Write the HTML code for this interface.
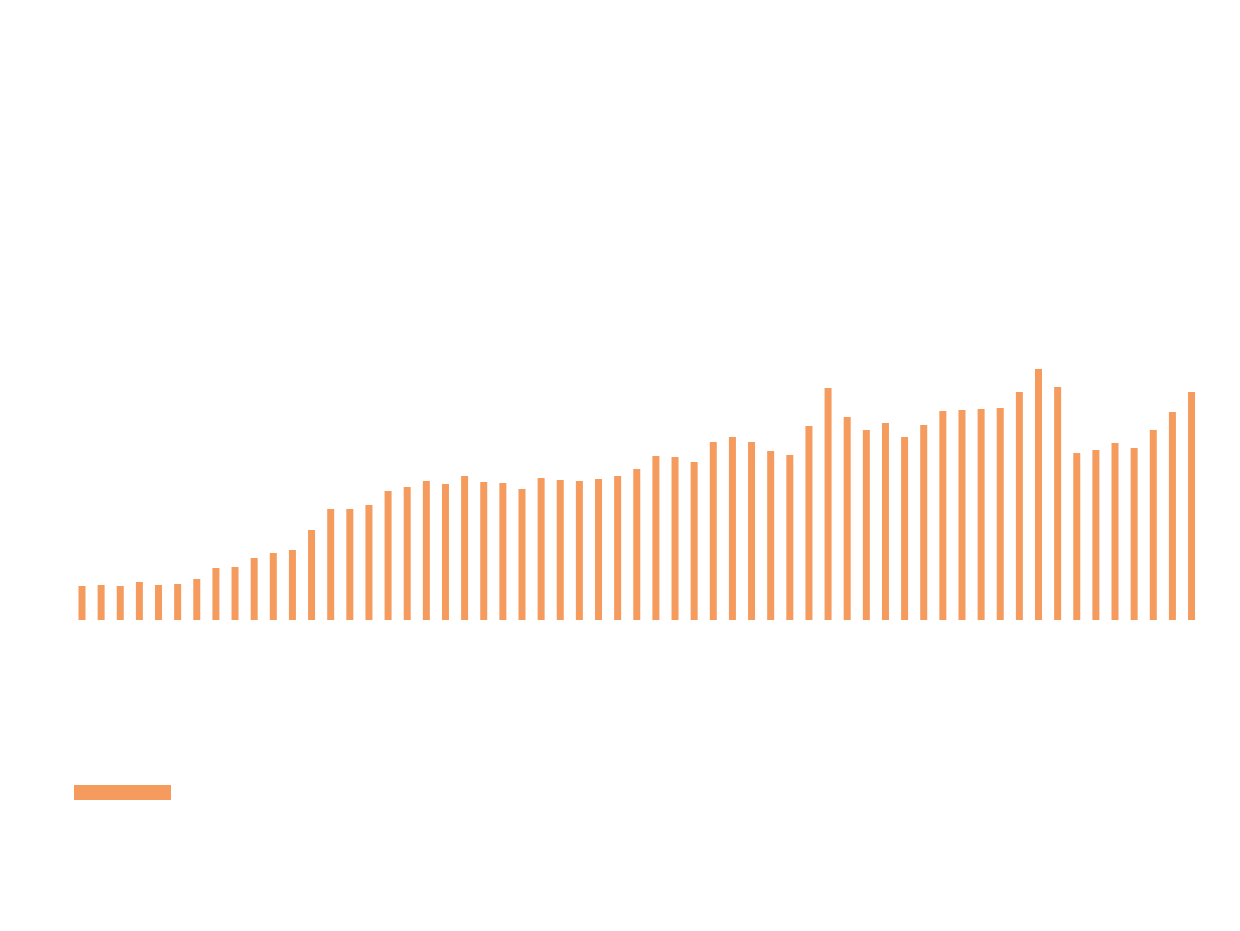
<!DOCTYPE html>
<html><head><meta charset="utf-8"><style>
html,body{margin:0;padding:0;background:#fff;}
svg{display:block;font-family:"Liberation Sans",sans-serif;}
</style></head><body>
<svg id="chart" width="1240" height="931" viewBox="0 0 1240 931">
<g id="bars"></g>
<rect x="74" y="785" width="97" height="15" fill="#f59b5e"/>
</svg>
<script>
const categories = Array.from({length:59},(_,i)=>"c"+(i+1));
const values = [34,35,34,38,35,36,41,52,53,62,67,70,90,111,111,115,129,133,139,136,144,138,137,131,142,140,139,141,144,151,164,163,158,178,183,178,169,165,194,232,203,190,197,183,195,209,210,211,212,228,251,233,167,170,177,172,190,208,228];
const x0=82, step=19.13, baseY=620, barW=7, scale=1;
function xPos(i){return x0+i*step;}
function yPos(v){return baseY-v*scale;}
const g=document.getElementById('bars');
values.forEach((v,i)=>{
  const r=document.createElementNS('http://www.w3.org/2000/svg','rect');
  
  
  r.setAttribute('x',xPos(i)-barW/2);
  r.setAttribute('y',yPos(v));
  r.setAttribute('width',barW);
  r.setAttribute('height',baseY-yPos(v));
  r.setAttribute('fill','#f59b5e');
  g.appendChild(r);
});
</script>
</body></html>
